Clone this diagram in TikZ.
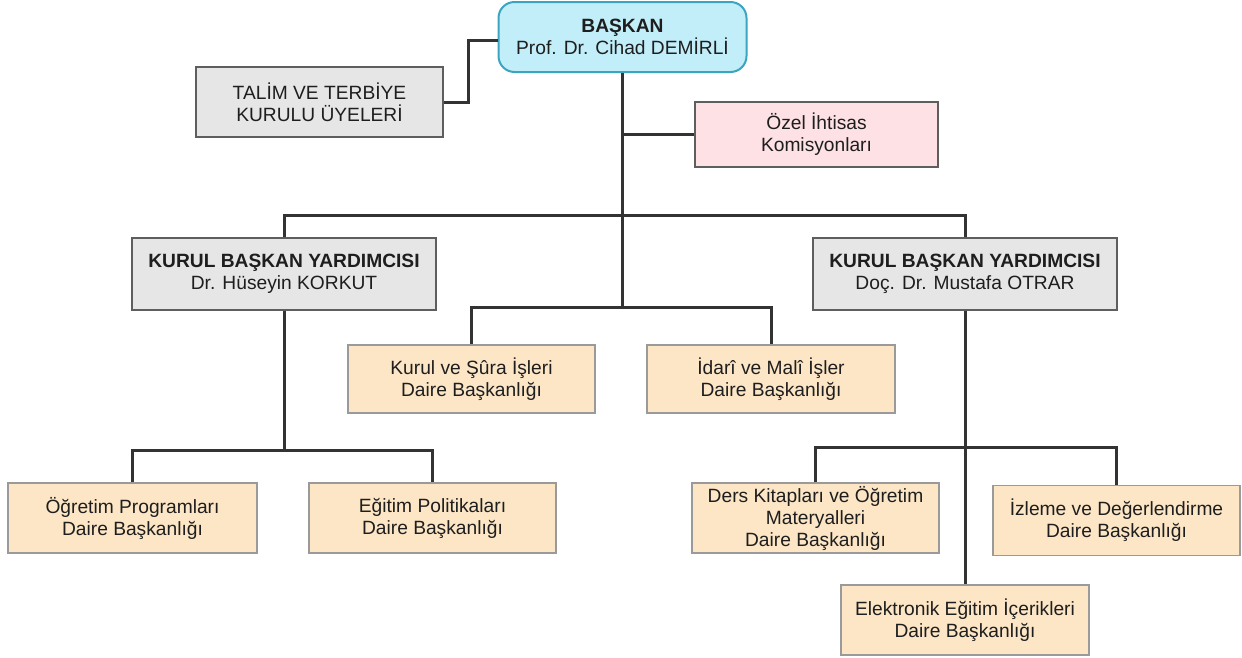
\documentclass[tikz,border=0pt]{standalone}
\usepackage{fontspec}
\setmainfont{Liberation Sans}
\definecolor{cyanfill}{HTML}{C2EEF9}
\definecolor{cyanline}{HTML}{3BA5C0}
\definecolor{grayfill}{HTML}{E6E6E6}
\definecolor{grayline}{HTML}{5E5E5E}
\definecolor{pinkfill}{HTML}{FDE1E4}
\definecolor{beigefill}{HTML}{FCE6C6}
\definecolor{beigeline}{HTML}{9A9A9A}
\definecolor{conn}{HTML}{333333}
\definecolor{txt}{HTML}{1E1E1E}
\begin{document}
\begin{tikzpicture}[x=1pt,y=-1pt,
  box/.style={draw, line width=1.5pt, inner sep=0pt, align=center, text=txt,
    font=\fontsize{19.2}{22}\selectfont},
  headbox/.style={box, fill=cyanfill, draw=cyanline, rounded corners=16pt, line width=2pt},
  graybox/.style={box, fill=grayfill, draw=grayline},
  pinkbox/.style={box, fill=pinkfill, draw=grayline},
  beigebox/.style={box, fill=beigefill, draw=beigeline},
  link/.style={draw=conn, line width=3pt}]
\useasboundingbox (0,0) rectangle (1242,657);
\fill[white] (0,0) rectangle (1242,657);

\node[headbox, minimum width=248pt, minimum height=70pt] (bas) at (622.5,37)
  {\textbf{BAŞKAN}\\Prof. Dr. Cihad DEMİRLİ};
\node[graybox, minimum width=247pt, minimum height=70pt] (talim) at (319.5,102)
  {TALİM VE TERBİYE\\KURULU ÜYELERİ};
\node[pinkbox, minimum width=243pt, minimum height=65pt] (ozel) at (816.5,134.5)
  {Özel İhtisas\\Komisyonları};
\node[graybox, minimum width=304pt, minimum height=72pt] (kby1) at (284,274)
  {\textbf{KURUL BAŞKAN YARDIMCISI}\\Dr. Hüseyin KORKUT};
\node[graybox, minimum width=304pt, minimum height=72pt] (kby2) at (965,274)
  {\textbf{KURUL BAŞKAN YARDIMCISI}\\Doç. Dr. Mustafa OTRAR};
\node[beigebox, minimum width=247pt, minimum height=68pt] (kurul) at (471.5,379)
  {Kurul ve Şûra İşleri\\Daire Başkanlığı};
\node[beigebox, minimum width=248pt, minimum height=68pt] (idari) at (771,379)
  {İdarî ve Malî İşler\\Daire Başkanlığı};
\node[beigebox, minimum width=249pt, minimum height=70pt] (ogr) at (132.5,518)
  {Öğretim Programları\\Daire Başkanlığı};
\node[beigebox, minimum width=247pt, minimum height=70pt] (egt) at (432.5,518)
  {Eğitim Politikaları\\Daire Başkanlığı};
\node[beigebox, minimum width=247pt, minimum height=70pt] (ders) at (815.5,518)
  {Ders Kitapları ve Öğretim\\Materyalleri\\Daire Başkanlığı};
\node[beigebox, minimum width=247pt, minimum height=70pt] (izl) at (1116.5,520.5)
  {İzleme ve Değerlendirme\\Daire Başkanlığı};
\node[beigebox, minimum width=248pt, minimum height=70pt] (elk) at (965,620)
  {Elektronik Eğitim İçerikleri\\Daire Başkanlığı};

\coordinate (hb) at (622.5,215);
\coordinate (mb) at (622.5,307);
\coordinate (lb) at (284,450);
\coordinate (rb) at (965,447);

\draw[link] ([yshift=-3pt]bas.west) -- ++(-29,0) |- (talim.east);
\draw[link] (bas.south) -- (mb);
\draw[link] (bas.south |- ozel.west) -- (ozel.west);
\draw[link] (kby1.north) |- (hb) -| (kby2.north);
\draw[link] (kurul.north) |- (mb) -| (idari.north);
\draw[link] (kby1.south) -- (lb);
\draw[link] (ogr.north) |- (lb) -| (egt.north);
\draw[link] (kby2.south) -- (elk.north);
\draw[link] (ders.north) |- (rb) -| (izl.north);
\end{tikzpicture}
\end{document}
